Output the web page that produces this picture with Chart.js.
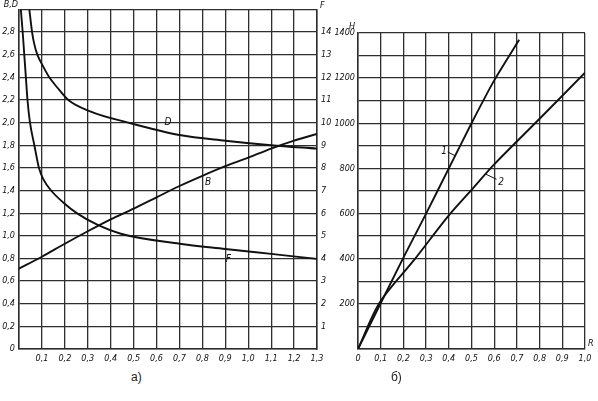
<!DOCTYPE html>
<html>
<head>
<meta charset="utf-8">
<script src="https://cdn.jsdelivr.net/npm/chart.js@4/dist/chart.umd.min.js"></script>
<style>
  body { margin: 0; background: #fff; width: 598px; height: 401px; position: relative; overflow: hidden; }
  canvas { position: absolute; top: 0; }
  #leftChart { left: 0; }
  #rightChart { left: 335px; }
  .cap { position: absolute; top: 370px; font: 12px 'Liberation Sans', Arial, sans-serif; color: #222; }
</style>
</head>
<body>
<canvas id="leftChart" width="340" height="370"></canvas>
<canvas id="rightChart" width="263" height="370"></canvas>
<div class="cap" style="left:131px">а)</div>
<div class="cap" style="left:391px">б)</div>
<script>
// panel a) - curve D (left axis)
const dR   = [0.045, 0.057, 0.066, 0.080, 0.103, 0.132, 0.167, 0.215, 0.31, 0.476, 0.7, 0.9, 1.1, 1.3];
const dVal = [3.0, 2.8, 2.7, 2.6, 2.505, 2.4, 2.31, 2.2, 2.1, 2.0, 1.89, 1.84, 1.80, 1.77];
// curve B (left axis)
const bR   = [0, 0.1, 0.2, 0.3, 0.4, 0.5, 0.6, 0.7, 0.8, 0.9, 1.0, 1.1, 1.2, 1.3];
const bVal = [0.71, 0.815, 0.93, 1.04, 1.145, 1.24, 1.34, 1.44, 1.53, 1.615, 1.69, 1.77, 1.84, 1.90];
// curve F (right axis)
const fR   = [0.008, 0.016, 0.023, 0.03, 0.037, 0.048, 0.067, 0.087, 0.106, 0.14, 0.193, 0.252, 0.339, 0.448, 0.7, 0.9, 1.1, 1.3];
const fVal = [15, 14, 13, 12, 11, 10, 9, 8, 7.5, 7, 6.47, 6, 5.5, 5.08, 4.65, 4.42, 4.2, 3.98];

// panel б) - lines 1 and 2
const h1R   = [0, 0.2, 0.3, 0.4, 0.5, 0.6, 0.71];
const h1Val = [0, 405, 600, 800, 1000, 1190, 1370];
const h2R   = [0, 0.095, 0.25, 0.4, 0.5, 0.6, 0.8, 1.0];
const h2Val = [0, 205, 398, 592, 705, 818, 1020, 1224];

// curve labels [text, x, y] in data units
const leftLabels = [['D', 0.65, 2.0], ['B', 0.825, 1.47], ['F', 0.913, 0.79]];
const rightLabels = [['1', 0.379, 877], ['2', 0.63, 740]];

const tickFont = { family: "'DejaVu Sans Condensed', 'DejaVu Sans', sans-serif", style: 'italic', size: 9 };
const ink = '#111';
const gridCol = '#2e2e2e';

const pts = (xs, ys) => xs.map((x, i) => ({ x: x, y: ys[i] }));
const comma = v => (Math.round(v * 10) / 10).toFixed(1).replace('.', ',');

const curve = (data, axis, tension) => ({
    data: data, yAxisID: axis || 'y', borderColor: ink, borderWidth: 1.9,
    pointRadius: 0, fill: false,
    cubicInterpolationMode: tension === undefined ? 'monotone' : 'default',
    tension: tension === undefined ? 0 : tension
});

const textPlugin = {
    id: 'texts',
    afterDraw(chart, args, opts) {
        const ctx = chart.ctx, a = chart.chartArea;
        ctx.save();
        ctx.fillStyle = ink;
        ctx.strokeStyle = ink;
        ctx.font = 'italic 10px ' + tickFont.family;
        ctx.textBaseline = 'middle';
        ctx.textAlign = 'center';
        opts.labels.forEach(l => {
            ctx.fillText(l[0], chart.scales.x.getPixelForValue(l[1]), chart.scales.y.getPixelForValue(l[2]));
        });
        (opts.leaders || []).forEach(s => {
            ctx.lineWidth = 1;
            ctx.beginPath();
            ctx.moveTo(chart.scales.x.getPixelForValue(s[0]), chart.scales.y.getPixelForValue(s[1]));
            ctx.lineTo(chart.scales.x.getPixelForValue(s[2]), chart.scales.y.getPixelForValue(s[3]));
            ctx.stroke();
        });
        ctx.font = 'italic 9px ' + tickFont.family;
        opts.titles.forEach(t => {
            ctx.textAlign = t.align;
            ctx.fillText(t.text, t.side === 'right' ? a.right + t.dx : a.left + t.dx, t.bottom ? a.bottom + t.dy : a.top + t.dy);
        });
        ctx.restore();
    }
};

const gridOpts = { color: gridCol, lineWidth: 1.3, drawTicks: false };
const borderOpts = { color: gridCol, width: 1.5 };

new Chart(document.getElementById('leftChart'), {
    type: 'line',
    data: {
        datasets: [curve(pts(dR, dVal)), curve(pts(bR, bVal), 'y', 0.3), curve(pts(fR, fVal), 'yF')]
    },
    options: {
        responsive: false, animation: false,
        layout: { padding: { top: 9 } },
        plugins: {
            legend: { display: false }, tooltip: { enabled: false },
            texts: {
                labels: leftLabels,
                titles: [
                    { text: 'B,D', side: 'left', dx: -1, dy: -5, align: 'right' },
                    { text: 'F', side: 'right', dx: 3, dy: -4, align: 'left' }
                ]
            }
        },
        scales: {
            x: {
                type: 'linear', min: 0, max: 1.3,
                grid: gridOpts, border: borderOpts,
                afterFit: s => { s.height = 21; },
                ticks: { stepSize: 0.1, autoSkip: false, maxRotation: 0, padding: 4, color: ink, font: tickFont,
                         callback: v => v === 0 ? '' : comma(v) }
            },
            y: {
                min: 0, max: 3.0,
                grid: gridOpts, border: borderOpts,
                afterFit: s => { s.width = 19; },
                ticks: { stepSize: 0.2, padding: 4, color: ink, font: tickFont,
                         callback: v => v === 0 ? '0' : (v > 2.9 ? '' : comma(v)) }
            },
            yF: {
                position: 'right', min: 0, max: 15,
                grid: { display: false, drawTicks: false },
                border: borderOpts,
                afterFit: s => { s.width = 23; },
                ticks: { stepSize: 1, padding: 4, color: ink, font: tickFont,
                         callback: v => (v === 0 || v === 15) ? '' : String(v) }
            }
        }
    },
    plugins: [textPlugin]
});

new Chart(document.getElementById('rightChart'), {
    type: 'line',
    data: {
        datasets: [curve(pts(h1R, h1Val), 'y', 0.2), curve(pts(h2R, h2Val), 'y', 0.3)]
    },
    options: {
        responsive: false, animation: false,
        layout: { padding: { top: 33, right: 13 } },
        plugins: {
            legend: { display: false }, tooltip: { enabled: false },
            texts: {
                labels: rightLabels,
                leaders: [[0.395, 873, 0.43, 855], [0.562, 775, 0.61, 752]],
                titles: [
                    { text: 'H', side: 'left', dx: -6, dy: -6, align: 'center' },
                    { text: 'R', side: 'right', dx: 3, dy: -5, align: 'left', bottom: true }
                ]
            }
        },
        scales: {
            x: {
                type: 'linear', min: 0, max: 1.0,
                grid: gridOpts, border: borderOpts,
                afterFit: s => { s.height = 21; },
                ticks: { stepSize: 0.1, autoSkip: false, maxRotation: 0, padding: 4, color: ink, font: tickFont,
                         callback: v => v === 0 ? '0' : comma(v) }
            },
            y: {
                min: 0, max: 1400,
                grid: gridOpts, border: borderOpts,
                afterFit: s => { s.width = 23; },
                ticks: { stepSize: 100, autoSkip: false, padding: 3, color: ink, font: tickFont,
                         callback: v => (v === 0 || v % 200 !== 0) ? '' : String(v) }
            }
        }
    },
    plugins: [textPlugin]
});
</script>
</body>
</html>
